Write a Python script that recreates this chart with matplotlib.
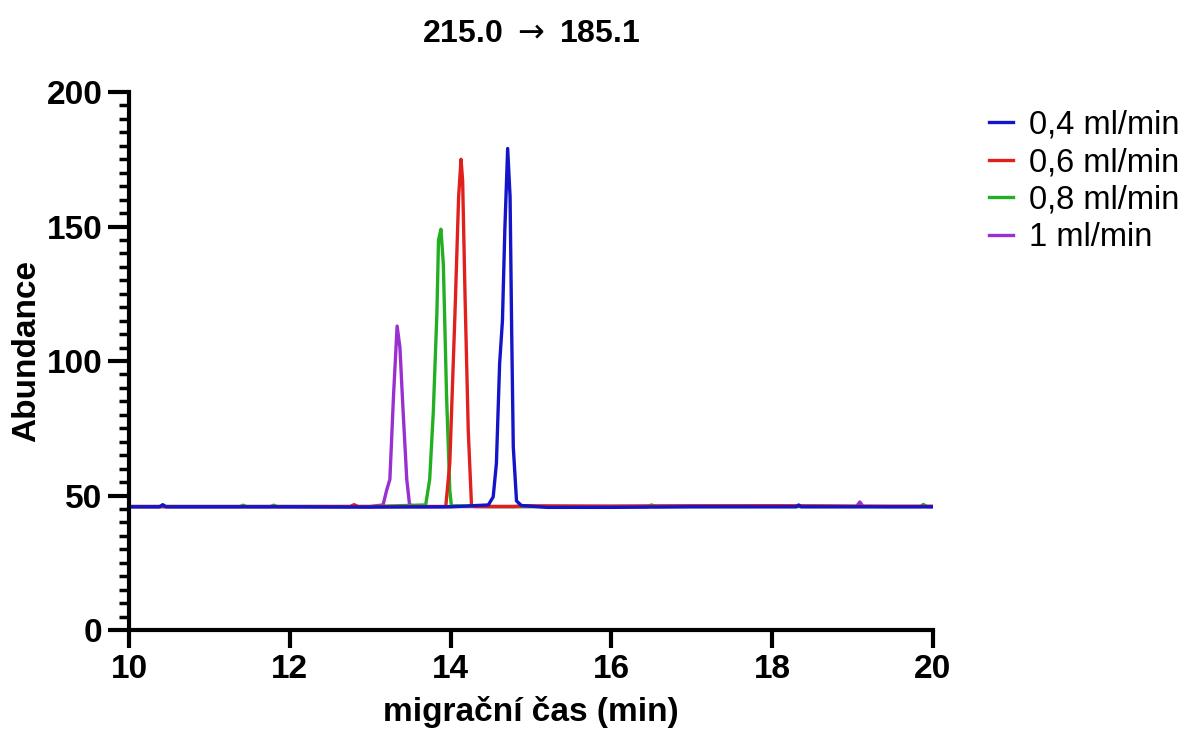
import matplotlib
matplotlib.use("Agg")
import matplotlib.pyplot as plt
from matplotlib.ticker import MultipleLocator

plt.rcParams['font.family'] = ['Liberation Sans', 'DejaVu Sans']
plt.rcParams['mathtext.fontset'] = 'dejavusans'

title = "215.0 $\\rightarrow$ 185.1"
xlabel = "migra\u010dn\u00ed \u010das (min)"
ylabel = "Abundance"
labels = ["0,4 ml/min", "0,6 ml/min", "0,8 ml/min", "1 ml/min"]
colors = ["#1414c8", "#e0201c", "#22b022", "#9a30d0"]

# 0,4 ml/min
t04 = [10.0, 10.38, 10.42, 10.46, 11.0, 12.0, 13.0, 14.0, 14.47, 14.53, 14.57, 14.61, 14.645,
       14.675, 14.71, 14.74, 14.76, 14.78, 14.82, 14.88, 15.2, 16.0, 17.0, 18.0, 18.3, 18.33,
       18.36, 19.0, 20.0]
a04 = [45.8, 45.8, 46.6, 45.8, 45.8, 45.8, 45.7, 45.8, 46.5, 49.5, 62, 99, 115,
       149, 179, 161, 111, 68, 48, 46.3, 45.6, 45.6, 45.8, 45.8, 45.8, 46.5,
       45.8, 45.8, 45.8]
# 0,6 ml/min
t06 = [10.0, 12.0, 12.75, 12.8, 12.85, 13.5, 13.94, 13.99, 14.055, 14.10, 14.13, 14.15, 14.18,
       14.22, 14.26, 14.3, 14.8, 14.9, 16.0, 17.0, 18.0, 18.6, 19.0, 20.0]
a06 = [45.9, 45.9, 45.9, 46.6, 45.9, 45.9, 45.9, 62, 118, 161, 175, 167, 124,
       74, 46.5, 45.9, 45.9, 46.2, 46.0, 46.1, 46.2, 46.1, 46.0, 46.0]
# 0,8 ml/min
t08 = [10.0, 11.0, 11.38, 11.42, 11.46, 11.76, 11.8, 11.84, 12.5, 13.0, 13.69, 13.74, 13.785,
       13.83, 13.85, 13.88, 13.91, 13.95, 13.99, 14.01, 14.5, 15.5, 16.45, 16.5, 16.55, 18.0,
       19.0, 19.85, 19.88, 19.92, 20.0]
a08 = [45.9, 45.9, 45.9, 46.4, 45.9, 45.9, 46.4, 45.9, 45.9, 45.9, 46.5, 56, 81,
       118, 145, 149, 136, 87, 52, 46.2, 45.9, 45.9, 45.9, 46.5, 45.9, 45.9,
       45.9, 45.9, 46.7, 45.9, 45.9]
# 1 ml/min
t10 = [10.0, 11.0, 12.0, 13.0, 13.16, 13.205, 13.245, 13.29, 13.335, 13.37, 13.41, 13.455,
       13.49, 13.6, 15.0, 16.0, 17.0, 18.0, 19.05, 19.09, 19.13, 19.5, 20.0]
a10 = [45.9, 45.9, 45.9, 45.9, 46.5, 52, 56, 87, 113, 105, 81, 56,
       46.5, 45.9, 45.9, 46.0, 46.2, 46.2, 46.0, 47.6, 46.0, 45.9, 45.9]

series_t = [t04, t06, t08, t10]
series_a = [a04, a06, a08, a10]

fig = plt.figure(figsize=(11.9, 7.38), dpi=100)
ax = fig.add_axes([0.1084, 0.1463, 0.6756, 0.729])

handles = [None] * 4
for i in [3, 2, 1, 0]:
    h, = ax.plot(series_t[i], series_a[i], color=colors[i], lw=2.4, label=labels[i])
    handles[i] = h

ax.set_xlim(10, 20)
ax.set_ylim(0, 200)
ax.set_xticks([10, 12, 14, 16, 18, 20])
ax.set_yticks([0, 50, 100, 150, 200])
ax.yaxis.set_minor_locator(MultipleLocator(5))
for s in ['top', 'right']:
    ax.spines[s].set_visible(False)
for s in ['left', 'bottom']:
    ax.spines[s].set_linewidth(3)
ax.tick_params(axis='both', which='major', direction='out', width=3, labelsize=24, pad=4)
ax.tick_params(axis='x', which='major', length=13)
ax.tick_params(axis='y', which='major', length=15)
ax.tick_params(axis='y', which='minor', direction='out', length=7, width=2.5)
for lab in ax.get_xticklabels() + ax.get_yticklabels():
    lab.set_fontweight('bold')

ax.set_xlabel(xlabel, fontsize=24, fontweight='bold', labelpad=8)
ax.set_ylabel(ylabel, fontsize=24, fontweight='bold')
ax.yaxis.set_label_coords(-0.108, 0.519)
ax.set_title(title, fontsize=23, fontweight='bold', pad=36)

leg = fig.legend(handles=handles, labels=labels, loc='upper left',
                 bbox_to_anchor=(0.806, 0.891), frameon=False, fontsize=23.5,
                 handlelength=0.75, handletextpad=0.5, labelspacing=0.2)

fig.savefig("out.png", dpi=100)
